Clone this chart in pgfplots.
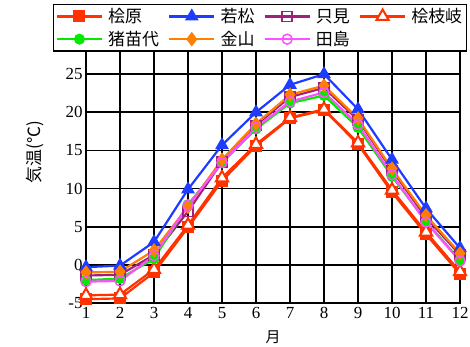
\documentclass[border=0pt]{standalone}
\usepackage{pgfplots}
\pgfplotsset{compat=1.18}
\usepackage{fontspec}
\setmainfont{Liberation Serif}
\newfontfamily\jp{Noto Sans CJK JP}
\definecolor{cHib}{RGB}{255,51,0}
\definecolor{cWak}{RGB}{30,60,255}
\definecolor{cTad}{RGB}{160,32,128}
\definecolor{cIna}{RGB}{0,235,0}
\definecolor{cKan}{RGB}{255,128,0}
\definecolor{cTaj}{RGB}{255,80,255}
\begin{document}
\begin{tikzpicture}
\begin{axis}[
  at={(0,0)}, anchor=south west,
  scale only axis, width=374bp, height=267bp,
  xmin=1, xmax=12, ymin=-5, ymax=30,
  xtick={1,...,12}, ytick={-5,0,...,25},
  major tick length=0pt,
  grid=major,
  grid style={black, line width=1.6pt},
  axis line style={black, line width=1.6pt},
  /pgf/number format/assume math mode=true,
  tick label style={font=\fontsize{17}{19}\selectfont},
  xticklabel style={yshift=-1bp},
  yticklabel style={xshift=0bp},
  xlabel={\jp 月}, ylabel={\jp 気温(℃)},
  label style={font=\fontsize{15}{17}\selectfont},
  xlabel style={at={(axis description cs:0.5,-0.127)}, anchor=center},
  ylabel style={at={(axis description cs:-0.136,0.566)}, anchor=center, rotate=0, font=\fontsize{17}{19}\selectfont},
  legend columns=4,
  legend cell align=left,
  legend style={at={(axis description cs:-0.088,1.12)}, anchor=north west,
    draw=black, line width=1.2pt, fill=white, inner sep=2bp, row sep=3bp,
    font=\fontsize{17}{18}\selectfont\jp,
    /tikz/every even column/.append style={column sep=7bp},
    /tikz/every odd column/.append style={column sep=3bp}},
  legend image code/.code={\draw[mark repeat=2,mark phase=2] plot coordinates {(0cm,0cm) (0.8cm,0cm) (1.6cm,0cm)};},
  every axis plot/.append style={line width=2.2pt},
]
\addplot[color=cHib, mark=square*, mark size=5.5bp, mark options={solid, line width=1pt}] coordinates {
(1,-4.5) (2,-4.4) (3,-1.0) (4,4.9) (5,11.0) (6,15.6) (7,19.2) (8,20.3) (9,15.8) (10,9.5) (11,4.0) (12,-1.2)};
\addlegendentry{桧原}
\addplot[color=cWak, mark=triangle*, mark size=7bp, mark options={solid, line width=1pt}] coordinates {
(1,-0.3) (2,-0.1) (3,3.0) (4,9.9) (5,15.7) (6,20.0) (7,23.6) (8,25.0) (9,20.4) (10,13.8) (11,7.4) (12,2.2)};
\addlegendentry{若松}
\addplot[color=cTad, mark=square, mark size=5bp, mark options={solid, line width=1.5pt, fill=white}] coordinates {
(1,-1.4) (2,-1.3) (3,1.3) (4,7.0) (5,13.5) (6,18.3) (7,22.0) (8,23.2) (9,19.0) (10,12.4) (11,6.2) (12,1.3)};
\addlegendentry{只見}
\addplot[color=cHib, mark=triangle*, mark size=7bp, mark options={solid, line width=2pt, fill=white}] coordinates {
(1,-4.0) (2,-3.9) (3,-0.6) (4,5.2) (5,11.4) (6,15.8) (7,19.3) (8,20.4) (9,16.0) (10,9.8) (11,4.3) (12,-0.9)};
\addlegendentry{桧枝岐}
\addplot[color=cIna, mark=*, mark size=5bp, mark options={solid, line width=1pt}] coordinates {
(1,-2.0) (2,-1.8) (3,0.8) (4,7.9) (5,13.4) (6,17.8) (7,21.2) (8,22.2) (9,18.0) (10,11.6) (11,5.7) (12,0.6)};
\addlegendentry{猪苗代}
\addplot[color=cKan, mark=diamond*, mark size=6.5bp, mark options={solid, line width=1pt}] coordinates {
(1,-1.0) (2,-0.9) (3,1.9) (4,7.6) (5,13.8) (6,18.5) (7,22.3) (8,23.5) (9,19.2) (10,12.6) (11,6.5) (12,1.5)};
\addlegendentry{金山}
\addplot[color=cTaj, mark=o, mark size=5bp, mark options={solid, line width=1.5pt, fill=white}] coordinates {
(1,-2.2) (2,-2.1) (3,1.2) (4,7.8) (5,13.4) (6,18.0) (7,21.4) (8,22.6) (9,18.4) (10,11.8) (11,5.6) (12,0.5)};
\addlegendentry{田島}
\end{axis}
\pgfresetboundingbox
\useasboundingbox (-86bp,-44bp) rectangle (384bp,303bp);
\end{tikzpicture}
\end{document}
